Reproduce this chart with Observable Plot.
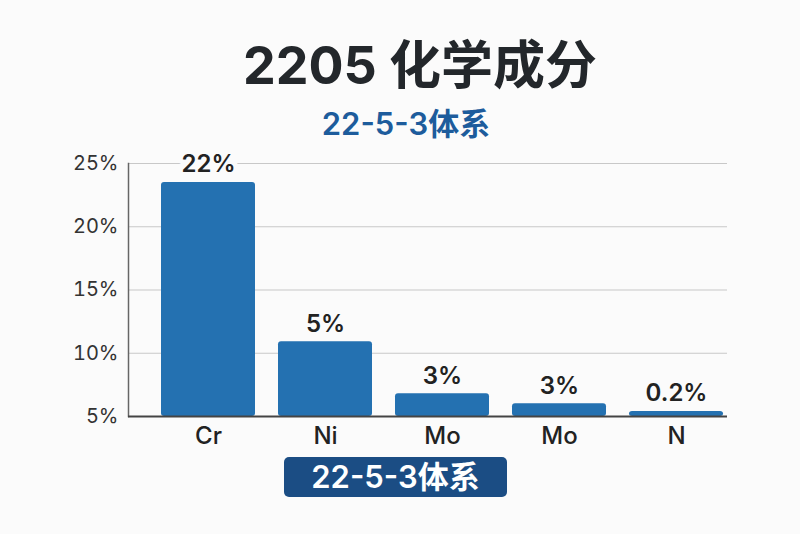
<!DOCTYPE html>
<html>
<head>
<meta charset="utf-8">
<script src="https://cdn.jsdelivr.net/npm/d3@7"></script>
<script src="https://cdn.jsdelivr.net/npm/@observablehq/plot@0.6"></script>
<style>
  html, body { margin: 0; padding: 0; background: #fbfbfb; }
  #wrap { position: relative; width: 800px; height: 534px; background: #fbfbfb; overflow: hidden;
          font-family: Inter, "Noto Sans CJK SC", sans-serif; }
  #title { position: absolute; left: 40px; width: 760px; top: 36px; line-height: 60px; text-align: center;
           font-size: 52px; font-weight: 700; color: #23272b; }
  #subtitle { position: absolute; left: 12px; width: 788px; top: 106px; line-height: 36px; text-align: center;
              font-size: 31px; font-weight: 600; color: #1d5c9c; }
  #chart { position: absolute; left: 0; top: 150px; }
  #badge { position: absolute; left: 284px; top: 457px; width: 223px; height: 40px; line-height: 40px;
           background: #1b4d84; border-radius: 5px; color: #fff; text-align: center;
           font-size: 31px; font-weight: 600; }
</style>
</head>
<body>
<div id="wrap">
  <div id="title">2205 化学成分</div>
  <div id="subtitle">22-5-3体系</div>
  <div id="chart"></div>
  <div id="badge">22-5-3体系</div>
</div>
<script>
const elements = ["Cr", "Ni", "Mo", "Mo", "N"];
const barHeights = [23.5, 10.9, 6.8, 6.0, 5.4];
const valueLabels = ["22%", "5%", "3%", "3%", "0.2%"];
const yTicks = [5, 10, 15, 20, 25];
const gridTicks = [10, 15, 20, 25];
const baseValue = 5;

const data = elements.map((e, i) => ({
  key: String(i), name: e, base: baseValue, h: barHeights[i], label: valueLabels[i]
}));

const font = 'Inter, "Noto Sans CJK SC", sans-serif';

const chart = Plot.plot({
  width: 800,
  height: 300,
  marginTop: 13,
  marginBottom: 34,
  marginLeft: 128,
  marginRight: 73,
  style: { background: "transparent", fontFamily: font },
  x: { domain: data.map(d => d.key), range: [136.5, 747.5], padding: 0.2, label: null },
  y: { domain: [5, 25], label: null },
  marks: [
    Plot.ruleY(gridTicks, { stroke: "#c8c8c8", strokeWidth: 1.2 }),
    Plot.barY(data, { x: "key", y1: "base", y2: "h", fill: "#2471b1", rx: 3 }),
    Plot.text(data, {
      x: "key", y: "h", text: "label", lineAnchor: "bottom", dy: -10,
      fontSize: 24, fontWeight: 600, fill: "#222", stroke: "#fbfbfb", strokeWidth: 10
    }),
    Plot.axisY({ ticks: yTicks, tickFormat: d => d + "%", tickSize: 0, tickPadding: 10,
      fontSize: 20, fill: "#333", label: null }),
    Plot.axisX({ tickFormat: k => elements[+k], tickSize: 0, tickPadding: 10,
      fontSize: 24, fontWeight: 500, fill: "#222", label: null }),
    Plot.frame({ anchor: "left", stroke: "#666", strokeWidth: 1.5 }),
    Plot.ruleY([baseValue], { stroke: "#444", strokeWidth: 2 })
  ]
});
document.getElementById("chart").appendChild(chart);
</script>
</body>
</html>
